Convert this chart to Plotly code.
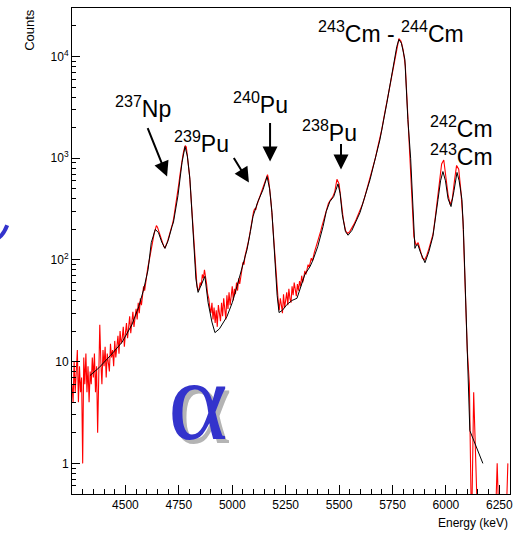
import numpy as np
import plotly.graph_objects as go

# ---- measured spectrum (red): 5 keV bins 4250-5445, 10 keV bins 5450-6290 ----
red_energy = list(range(4250, 5450, 5)) + list(range(5450, 6300, 10))
red_counts = [
    6, 4, 10, 5, 8, 13, 4, 9, 5, 7,                 # 4250-4295
    1, 11, 6, 12, 5, 9, 4, 8, 6, 11,                # 4300-4345
    7, 12, 5, 9, 2, 8, 23, 10, 6, 13,               # 4350-4395
    9, 14, 7, 12, 10, 8, 15, 11, 13, 9,             # 4400-4445
    16, 11, 14, 18, 12, 20, 15, 17, 22, 14,         # 4450-4495
    19, 24, 17, 22, 28, 19, 25, 31, 22, 28,         # 4500-4545
    33, 26, 38, 30, 42, 36, 48, 55, 50, 62,         # 4550-4595
    72, 85, 95, 110, 125, 150, 170, 185, 200, 218,  # 4600-4645
    210, 195, 180, 165, 150, 142, 135, 132, 138, 148,       # 4650-4695
    160, 172, 190, 205, 225, 250, 290, 330, 385, 440,       # 4700-4745
    560, 680, 820, 960, 1100, 1230, 1330, 1290, 1080, 900,  # 4750-4795
    680, 480, 320, 220, 150, 100, 68, 55, 50, 52,           # 4800-4845
    60, 56, 72, 66, 80, 70, 58, 46, 42, 34,                 # 4850-4895
    30, 38, 26, 34, 24, 32, 22, 36, 28, 25,                 # 4900-4945
    38, 28, 42, 31, 26, 45, 33, 48, 36, 44,                 # 4950-4995
    55, 40, 52, 46, 60, 50, 66, 58, 72, 80,                 # 5000-5045
    95, 90, 110, 120, 130, 150, 170, 200, 220, 270,         # 5050-5095
    300, 320, 310, 345, 370, 390, 410, 440, 470, 520,       # 5100-5145
    560, 600, 650, 690, 620, 520, 400, 300, 210, 150,       # 5150-5195
    100, 70, 50, 40, 32, 42, 36, 30, 46, 34,                # 5200-5245
    40, 48, 36, 52, 42, 38, 55, 45, 60, 48,                 # 5250-5295
    44, 58, 50, 62, 55, 70, 60, 68, 78, 72,                 # 5300-5345
    82, 90, 85, 96, 104, 98, 112, 120, 130, 140,            # 5350-5395
    150, 165, 175, 195, 215, 235, 255, 285, 310, 335,       # 5400-5445
    360, 390, 415, 470, 620, 560, 380, 250, 195, 182,       # 5450-5540
    190, 205, 225, 250, 280, 305, 355, 415, 490, 580,       # 5550-5640
    690, 830, 1010, 1260, 1520, 1920, 2520, 3250, 4250, 5550,      # 5650-5740
    7200, 9600, 12600, 15000, 14100, 11600, 8100, 3100, 1250, 540, # 5750-5840
    170, 140, 148, 125, 104, 100, 110, 128, 150, 180,       # 5850-5940
    260, 380, 570, 880, 960, 650, 440, 350, 400, 600,       # 5950-6040
    850, 780, 480, 240, 58, 13, 6, 0, 5, 1,                 # 6050-6140
    0, 0, 0, 0, 0, 0, 0, 0, 0, 1,                           # 6150-6240
    0, 0, 0, 0, 1,                                          # 6250-6290
]

# ---- fitted curve (black) ----
fit_energy = [4334, 4376, 4430, 4484, 4530, 4563, 4585, 4606, 4621, 4640,
              4655, 4670, 4685, 4700, 4718, 4725, 4746, 4765, 4779, 4790,
              4802, 4816, 4830, 4840, 4855, 4872, 4887, 4905, 4919, 4940,
              4975, 5000, 5022, 5045, 5069, 5085, 5097, 5120, 5144, 5163,
              5175, 5186, 5200, 5210, 5219, 5235, 5256, 5280, 5303, 5317,
              5340, 5364, 5378, 5400, 5425, 5440, 5457, 5475, 5495, 5505,
              5515, 5530, 5542, 5560, 5598, 5645, 5691, 5724, 5752, 5770,
              5780, 5792, 5808, 5822, 5835, 5845, 5855, 5862, 5869, 5880,
              5902, 5920, 5939, 5963, 5975, 5986, 5998, 6010, 6024, 6038,
              6052, 6062, 6075, 6082, 6089, 6098, 6105, 6112, 6173]
fit_counts = [7.3, 8.7, 11.5, 15.5, 23, 35, 51, 80, 148, 200,
              185, 150, 130, 155, 213, 236, 430, 910, 1300, 1050,
              620, 200, 65, 48, 58, 69, 38, 24.5, 19.3, 21,
              27.7, 38, 55, 85, 126, 190, 267, 375, 490, 660,
              500, 292, 94, 45, 30.4, 32, 36.5, 40, 42, 52,
              72, 86, 100, 135, 213, 300, 375, 420, 560, 450,
              280, 190, 175, 195, 292, 617, 1514, 3530, 7400, 12500,
              14700, 13500, 9350, 2400, 1000, 300, 130, 140, 141, 120,
              94, 120, 170, 393, 600, 740, 600, 400, 335, 480,
              725, 600, 393, 200, 60, 13, 5, 2.1, 1.0]

x_tick_vals = [4500, 4750, 5000, 5250, 5500, 5750, 6000, 6250]
x_tick_text = ["4500", "4750", "5000", "5250", "5500", "5750", "6000", "6250"]
y_tick_vals = [1, 10, 100, 1000, 10000]
y_tick_text = ["1", "10", "10<sup>2</sup>", "10<sup>3</sup>", "10<sup>4</sup>"]

# zero-count bins drawn below the visible log range
red_plot = [v if v > 0 else 0.2 for v in red_counts]

FONT = "Liberation Sans, Arial, sans-serif"

fig = go.Figure()
fig.add_trace(go.Scatter(x=red_energy, y=red_plot, mode="lines",
                         line=dict(color="#ff0000", width=1.1),
                         hoverinfo="skip"))
fig.add_trace(go.Scatter(x=fit_energy, y=fit_counts, mode="lines",
                         line=dict(color="black", width=1),
                         hoverinfo="skip"))

minor_y = []
for d in [0.1, 1, 10, 100, 1000, 10000]:
    for m in range(2, 10):
        v = m * d
        if 0.5 < v < 30000:
            minor_y.append(v)

fig.update_layout(
    width=524, height=533,
    margin=dict(l=72, r=14, t=8, b=39),
    paper_bgcolor="white", plot_bgcolor="white",
    showlegend=False,
    font=dict(family=FONT, color="black", size=12),
    xaxis=dict(range=[4250, 6300], tickvals=x_tick_vals, ticktext=x_tick_text,
               ticks="inside", ticklen=9, tickwidth=1, tickcolor="black",
               showline=True, mirror=True, linecolor="black", linewidth=1,
               showgrid=False, zeroline=False,
               tickfont=dict(size=12, family=FONT),
               minor=dict(ticks="inside", ticklen=5, tickcolor="black",
                          dtick=50, tick0=4250, showgrid=False)),
    yaxis=dict(type="log", range=[np.log10(0.5), np.log10(30000)],
               tickvals=y_tick_vals, ticktext=y_tick_text,
               ticks="inside", ticklen=8, tickwidth=1, tickcolor="black",
               showline=True, mirror=True, linecolor="black", linewidth=1,
               showgrid=False, zeroline=False,
               tickfont=dict(size=12, family=FONT),
               minor=dict(ticks="inside", ticklen=4, tickcolor="black",
                          tickmode="array", tickvals=minor_y, showgrid=False)),
)

LBL = dict(size=23, family=FONT, color="black")
labels = [
    ("<sup>237</sup>Np", 4582, 3.50),
    ("<sup>239</sup>Pu", 4854, 3.164),
    ("<sup>240</sup>Pu", 5130, 3.548),
    ("<sup>238</sup>Pu", 5457, 3.263),
    ("<sup>243</sup>Cm - <sup>244</sup>Cm", 5743, 4.246),
    ("<sup>242</sup>Cm", 6075, 3.312),
    ("<sup>243</sup>Cm", 6075, 3.036),
]
for t, x, y in labels:
    fig.add_annotation(x=x, y=y, xref="x", yref="y", text=t, showarrow=False,
                       font=LBL, xanchor="center", yanchor="middle")

arrows = [  # tip (keV, log10 counts), tail offset in px
    (4695, 2.82, -20, -50),
    (5078, 2.761, -16, -26),
    (5177, 2.968, 0, -40),
    (5509, 2.889, 0, -27),
]
for x, y, ax, ay in arrows:
    fig.add_annotation(x=x, y=y, xref="x", yref="y", text="", showarrow=True,
                       ax=ax, ay=ay, arrowhead=2, arrowsize=1.5, arrowwidth=2,
                       arrowcolor="black", standoff=0)

# alpha symbol with shadow
ALPHA_FONT = "Liberation Serif, Times New Roman, serif"
for col, dx, dy in [("#b4b4b4", 4, -4), ("#3333cc", 0, 0)]:
    fig.add_annotation(x=0.215, y=0.057, xref="paper", yref="paper", text="α",
                       showarrow=False, xshift=dx, yshift=dy,
                       xanchor="left", yanchor="bottom",
                       font=dict(size=114, family=ALPHA_FONT, color=col))

# partial blue stroke at left edge
fig.add_shape(type="path", xref="paper", yref="paper",
              path="M -0.168,0.527 Q -0.156,0.534 -0.148,0.553",
              line=dict(color="#3333cc", width=4))

# axis titles
fig.add_annotation(x=-0.096, y=0.955, xref="paper", yref="paper", text="Counts",
                   textangle=-90, showarrow=False, xanchor="center", yanchor="middle",
                   font=dict(size=13, family=FONT))
fig.add_annotation(x=1.0, y=-0.06, xref="paper", yref="paper", text="Energy (keV)",
                   showarrow=False, xanchor="right", yanchor="middle",
                   font=dict(size=12, family=FONT))

fig.write_html("out.html", config={"displayModeBar": False},
               post_script="document.body.style.margin='0';")
